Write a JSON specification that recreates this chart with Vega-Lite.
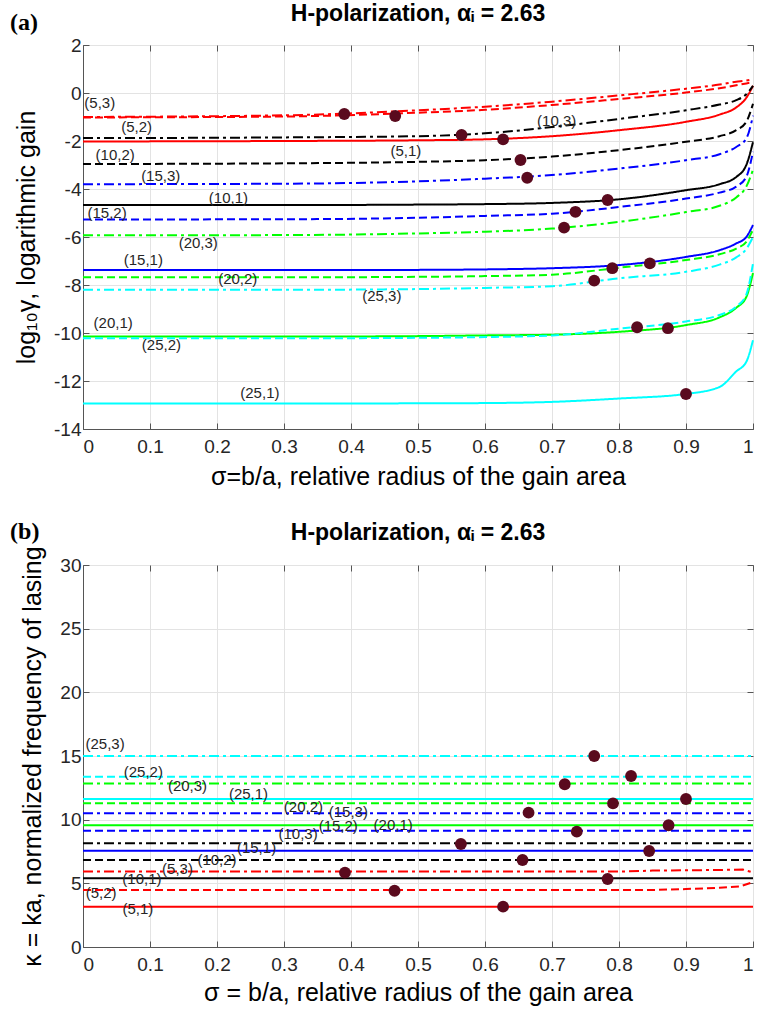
{
"$schema":"https://vega.github.io/schema/vega-lite/v6.json",
"background":"white",
"padding":{"left":9,"top":2,"right":0,"bottom":3},
"spacing":29,
"config":{
 "view":{"stroke":"#555","strokeWidth":1},
 "font":"Liberation Sans",
 "axis":{"labelFont":"Liberation Sans","labelFontSize":19,"labelColor":"#262626","titleFont":"Liberation Sans","titleFontSize":25,"titleFontWeight":"normal","titleColor":"#000","domainColor":"#555","tickColor":"#555","gridColor":"#e3e3e3","tickSize":-6,"labelPadding":8},
 "title":{"font":"Liberation Sans","fontSize":23,"fontWeight":"bold","color":"#000","anchor":"middle","offset":-15}
},
"datasets":{
"gain":[
{"k":"(5,3)","m":"5","n":"3","s":0,"v":-1.0},{"k":"(5,3)","m":"5","n":"3","s":0.3,"v":-0.93},{"k":"(5,3)","m":"5","n":"3","s":0.5,"v":-0.72},{"k":"(5,3)","m":"5","n":"3","s":0.6,"v":-0.57},{"k":"(5,3)","m":"5","n":"3","s":0.7,"v":-0.36},{"k":"(5,3)","m":"5","n":"3","s":0.8,"v":-0.1},{"k":"(5,3)","m":"5","n":"3","s":0.9,"v":0.18},{"k":"(5,3)","m":"5","n":"3","s":0.95,"v":0.35},{"k":"(5,3)","m":"5","n":"3","s":0.975,"v":0.47},{"k":"(5,3)","m":"5","n":"3","s":0.99,"v":0.52},{"k":"(5,3)","m":"5","n":"3","s":1,"v":0.58},
{"k":"(5,2)","m":"5","n":"2","s":0,"v":-1.02},{"k":"(5,2)","m":"5","n":"2","s":0.3,"v":-0.98},{"k":"(5,2)","m":"5","n":"2","s":0.5,"v":-0.82},{"k":"(5,2)","m":"5","n":"2","s":0.6,"v":-0.7},{"k":"(5,2)","m":"5","n":"2","s":0.7,"v":-0.5},{"k":"(5,2)","m":"5","n":"2","s":0.8,"v":-0.25},{"k":"(5,2)","m":"5","n":"2","s":0.9,"v":0.02},{"k":"(5,2)","m":"5","n":"2","s":0.95,"v":0.2},{"k":"(5,2)","m":"5","n":"2","s":0.975,"v":0.32},{"k":"(5,2)","m":"5","n":"2","s":0.99,"v":0.4},{"k":"(5,2)","m":"5","n":"2","s":1,"v":0.45},
{"k":"(5,1)","m":"5","n":"1","s":0,"v":-2.02},{"k":"(5,1)","m":"5","n":"1","s":0.3,"v":-2.0},{"k":"(5,1)","m":"5","n":"1","s":0.5,"v":-1.97},{"k":"(5,1)","m":"5","n":"1","s":0.6,"v":-1.93},{"k":"(5,1)","m":"5","n":"1","s":0.7,"v":-1.8},{"k":"(5,1)","m":"5","n":"1","s":0.8,"v":-1.55},{"k":"(5,1)","m":"5","n":"1","s":0.9,"v":-1.2},{"k":"(5,1)","m":"5","n":"1","s":0.95,"v":-0.9},{"k":"(5,1)","m":"5","n":"1","s":0.975,"v":-0.6},{"k":"(5,1)","m":"5","n":"1","s":0.99,"v":-0.2},{"k":"(5,1)","m":"5","n":"1","s":1,"v":0.3},
{"k":"(10,3)","m":"10","n":"3","s":0,"v":-1.88},{"k":"(10,3)","m":"10","n":"3","s":0.3,"v":-1.85},{"k":"(10,3)","m":"10","n":"3","s":0.5,"v":-1.8},{"k":"(10,3)","m":"10","n":"3","s":0.6,"v":-1.68},{"k":"(10,3)","m":"10","n":"3","s":0.7,"v":-1.42},{"k":"(10,3)","m":"10","n":"3","s":0.8,"v":-1.08},{"k":"(10,3)","m":"10","n":"3","s":0.9,"v":-0.72},{"k":"(10,3)","m":"10","n":"3","s":0.95,"v":-0.48},{"k":"(10,3)","m":"10","n":"3","s":0.975,"v":-0.3},{"k":"(10,3)","m":"10","n":"3","s":0.99,"v":-0.05},{"k":"(10,3)","m":"10","n":"3","s":1,"v":0.3},
{"k":"(10,2)","m":"10","n":"2","s":0,"v":-2.96},{"k":"(10,2)","m":"10","n":"2","s":0.3,"v":-2.93},{"k":"(10,2)","m":"10","n":"2","s":0.5,"v":-2.87},{"k":"(10,2)","m":"10","n":"2","s":0.6,"v":-2.8},{"k":"(10,2)","m":"10","n":"2","s":0.7,"v":-2.65},{"k":"(10,2)","m":"10","n":"2","s":0.8,"v":-2.38},{"k":"(10,2)","m":"10","n":"2","s":0.9,"v":-2.03},{"k":"(10,2)","m":"10","n":"2","s":0.95,"v":-1.8},{"k":"(10,2)","m":"10","n":"2","s":0.975,"v":-1.55},{"k":"(10,2)","m":"10","n":"2","s":0.99,"v":-1.2},{"k":"(10,2)","m":"10","n":"2","s":1,"v":-0.45},
{"k":"(10,1)","m":"10","n":"1","s":0,"v":-4.67},{"k":"(10,1)","m":"10","n":"1","s":0.3,"v":-4.67},{"k":"(10,1)","m":"10","n":"1","s":0.5,"v":-4.65},{"k":"(10,1)","m":"10","n":"1","s":0.6,"v":-4.63},{"k":"(10,1)","m":"10","n":"1","s":0.7,"v":-4.58},{"k":"(10,1)","m":"10","n":"1","s":0.8,"v":-4.43},{"k":"(10,1)","m":"10","n":"1","s":0.9,"v":-4.05},{"k":"(10,1)","m":"10","n":"1","s":0.95,"v":-3.8},{"k":"(10,1)","m":"10","n":"1","s":0.975,"v":-3.5},{"k":"(10,1)","m":"10","n":"1","s":0.99,"v":-3.0},{"k":"(10,1)","m":"10","n":"1","s":1,"v":-2.05},
{"k":"(15,3)","m":"15","n":"3","s":0,"v":-3.8},{"k":"(15,3)","m":"15","n":"3","s":0.3,"v":-3.78},{"k":"(15,3)","m":"15","n":"3","s":0.5,"v":-3.68},{"k":"(15,3)","m":"15","n":"3","s":0.6,"v":-3.57},{"k":"(15,3)","m":"15","n":"3","s":0.7,"v":-3.42},{"k":"(15,3)","m":"15","n":"3","s":0.8,"v":-3.15},{"k":"(15,3)","m":"15","n":"3","s":0.9,"v":-2.8},{"k":"(15,3)","m":"15","n":"3","s":0.95,"v":-2.55},{"k":"(15,3)","m":"15","n":"3","s":0.975,"v":-2.25},{"k":"(15,3)","m":"15","n":"3","s":0.99,"v":-1.9},{"k":"(15,3)","m":"15","n":"3","s":1,"v":-0.95},
{"k":"(15,2)","m":"15","n":"2","s":0,"v":-5.27},{"k":"(15,2)","m":"15","n":"2","s":0.3,"v":-5.26},{"k":"(15,2)","m":"15","n":"2","s":0.5,"v":-5.2},{"k":"(15,2)","m":"15","n":"2","s":0.6,"v":-5.12},{"k":"(15,2)","m":"15","n":"2","s":0.7,"v":-5.03},{"k":"(15,2)","m":"15","n":"2","s":0.8,"v":-4.75},{"k":"(15,2)","m":"15","n":"2","s":0.9,"v":-4.4},{"k":"(15,2)","m":"15","n":"2","s":0.95,"v":-4.15},{"k":"(15,2)","m":"15","n":"2","s":0.975,"v":-3.9},{"k":"(15,2)","m":"15","n":"2","s":0.99,"v":-3.5},{"k":"(15,2)","m":"15","n":"2","s":1,"v":-2.45},
{"k":"(15,1)","m":"15","n":"1","s":0,"v":-7.38},{"k":"(15,1)","m":"15","n":"1","s":0.3,"v":-7.38},{"k":"(15,1)","m":"15","n":"1","s":0.5,"v":-7.37},{"k":"(15,1)","m":"15","n":"1","s":0.6,"v":-7.35},{"k":"(15,1)","m":"15","n":"1","s":0.7,"v":-7.3},{"k":"(15,1)","m":"15","n":"1","s":0.8,"v":-7.17},{"k":"(15,1)","m":"15","n":"1","s":0.9,"v":-6.83},{"k":"(15,1)","m":"15","n":"1","s":0.95,"v":-6.55},{"k":"(15,1)","m":"15","n":"1","s":0.975,"v":-6.27},{"k":"(15,1)","m":"15","n":"1","s":0.99,"v":-6.0},{"k":"(15,1)","m":"15","n":"1","s":1,"v":-5.5},
{"k":"(20,3)","m":"20","n":"3","s":0,"v":-5.93},{"k":"(20,3)","m":"20","n":"3","s":0.3,"v":-5.92},{"k":"(20,3)","m":"20","n":"3","s":0.5,"v":-5.85},{"k":"(20,3)","m":"20","n":"3","s":0.6,"v":-5.78},{"k":"(20,3)","m":"20","n":"3","s":0.7,"v":-5.65},{"k":"(20,3)","m":"20","n":"3","s":0.8,"v":-5.37},{"k":"(20,3)","m":"20","n":"3","s":0.9,"v":-4.96},{"k":"(20,3)","m":"20","n":"3","s":0.95,"v":-4.7},{"k":"(20,3)","m":"20","n":"3","s":0.975,"v":-4.35},{"k":"(20,3)","m":"20","n":"3","s":0.99,"v":-3.9},{"k":"(20,3)","m":"20","n":"3","s":1,"v":-3.2},
{"k":"(20,2)","m":"20","n":"2","s":0,"v":-7.68},{"k":"(20,2)","m":"20","n":"2","s":0.3,"v":-7.68},{"k":"(20,2)","m":"20","n":"2","s":0.5,"v":-7.66},{"k":"(20,2)","m":"20","n":"2","s":0.6,"v":-7.63},{"k":"(20,2)","m":"20","n":"2","s":0.7,"v":-7.57},{"k":"(20,2)","m":"20","n":"2","s":0.8,"v":-7.28},{"k":"(20,2)","m":"20","n":"2","s":0.9,"v":-6.96},{"k":"(20,2)","m":"20","n":"2","s":0.95,"v":-6.72},{"k":"(20,2)","m":"20","n":"2","s":0.975,"v":-6.48},{"k":"(20,2)","m":"20","n":"2","s":0.99,"v":-6.2},{"k":"(20,2)","m":"20","n":"2","s":1,"v":-5.7},
{"k":"(20,1)","m":"20","n":"1","s":0,"v":-10.15},{"k":"(20,1)","m":"20","n":"1","s":0.3,"v":-10.15},{"k":"(20,1)","m":"20","n":"1","s":0.5,"v":-10.13},{"k":"(20,1)","m":"20","n":"1","s":0.6,"v":-10.1},{"k":"(20,1)","m":"20","n":"1","s":0.7,"v":-10.07},{"k":"(20,1)","m":"20","n":"1","s":0.8,"v":-9.95},{"k":"(20,1)","m":"20","n":"1","s":0.9,"v":-9.67},{"k":"(20,1)","m":"20","n":"1","s":0.95,"v":-9.35},{"k":"(20,1)","m":"20","n":"1","s":0.975,"v":-8.95},{"k":"(20,1)","m":"20","n":"1","s":0.99,"v":-8.5},{"k":"(20,1)","m":"20","n":"1","s":1,"v":-7.5},
{"k":"(25,3)","m":"25","n":"3","s":0,"v":-8.2},{"k":"(25,3)","m":"25","n":"3","s":0.3,"v":-8.2},{"k":"(25,3)","m":"25","n":"3","s":0.5,"v":-8.17},{"k":"(25,3)","m":"25","n":"3","s":0.6,"v":-8.12},{"k":"(25,3)","m":"25","n":"3","s":0.7,"v":-8.05},{"k":"(25,3)","m":"25","n":"3","s":0.8,"v":-7.72},{"k":"(25,3)","m":"25","n":"3","s":0.9,"v":-7.45},{"k":"(25,3)","m":"25","n":"3","s":0.95,"v":-7.15},{"k":"(25,3)","m":"25","n":"3","s":0.975,"v":-6.85},{"k":"(25,3)","m":"25","n":"3","s":0.99,"v":-6.5},{"k":"(25,3)","m":"25","n":"3","s":1,"v":-6.0},
{"k":"(25,2)","m":"25","n":"2","s":0,"v":-10.22},{"k":"(25,2)","m":"25","n":"2","s":0.3,"v":-10.22},{"k":"(25,2)","m":"25","n":"2","s":0.5,"v":-10.2},{"k":"(25,2)","m":"25","n":"2","s":0.6,"v":-10.17},{"k":"(25,2)","m":"25","n":"2","s":0.7,"v":-10.1},{"k":"(25,2)","m":"25","n":"2","s":0.8,"v":-9.82},{"k":"(25,2)","m":"25","n":"2","s":0.9,"v":-9.52},{"k":"(25,2)","m":"25","n":"2","s":0.95,"v":-9.25},{"k":"(25,2)","m":"25","n":"2","s":0.975,"v":-8.9},{"k":"(25,2)","m":"25","n":"2","s":0.99,"v":-8.4},{"k":"(25,2)","m":"25","n":"2","s":1,"v":-7.1},
{"k":"(25,1)","m":"25","n":"1","s":0,"v":-12.94},{"k":"(25,1)","m":"25","n":"1","s":0.3,"v":-12.94},{"k":"(25,1)","m":"25","n":"1","s":0.5,"v":-12.93},{"k":"(25,1)","m":"25","n":"1","s":0.6,"v":-12.92},{"k":"(25,1)","m":"25","n":"1","s":0.7,"v":-12.87},{"k":"(25,1)","m":"25","n":"1","s":0.8,"v":-12.73},{"k":"(25,1)","m":"25","n":"1","s":0.9,"v":-12.54},{"k":"(25,1)","m":"25","n":"1","s":0.95,"v":-12.25},{"k":"(25,1)","m":"25","n":"1","s":0.975,"v":-11.6},{"k":"(25,1)","m":"25","n":"1","s":0.99,"v":-11.2},{"k":"(25,1)","m":"25","n":"1","s":1,"v":-10.3}
],
"gainDots":[
{"s":0.39,"v":-0.875},{"s":0.466,"v":-0.96},{"s":0.565,"v":-1.75},{"s":0.627,"v":-1.93},{"s":0.653,"v":-2.79},{"s":0.663,"v":-3.53},{"s":0.783,"v":-4.46},{"s":0.735,"v":-4.95},{"s":0.718,"v":-5.61},{"s":0.846,"v":-7.1},{"s":0.79,"v":-7.3},{"s":0.763,"v":-7.82},{"s":0.873,"v":-9.8},{"s":0.827,"v":-9.76},{"s":0.9,"v":-12.54}
],
"gainLabels":[
{"t":"(5,3)","s":0.025,"v":-0.42},{"t":"(5,2)","s":0.08,"v":-1.42},{"t":"(10,2)","s":0.048,"v":-2.58},{"t":"(15,3)","s":0.116,"v":-3.46},{"t":"(10,1)","s":0.217,"v":-4.38},{"t":"(15,2)","s":0.036,"v":-5.0},{"t":"(20,3)","s":0.172,"v":-6.25},{"t":"(15,1)","s":0.09,"v":-6.96},{"t":"(20,2)","s":0.231,"v":-7.76},{"t":"(25,3)","s":0.446,"v":-8.46},{"t":"(20,1)","s":0.045,"v":-9.58},{"t":"(25,2)","s":0.117,"v":-10.5},{"t":"(25,1)","s":0.264,"v":-12.5},{"t":"(10,3)","s":0.707,"v":-1.15},{"t":"(5,1)","s":0.482,"v":-2.42}
],
"freq":[
{"k":"(25,3)","m":"25","n":"3","s":0,"v":15.0},{"k":"(25,3)","m":"25","n":"3","s":1,"v":15.0},
{"k":"(25,2)","m":"25","n":"2","s":0,"v":13.38},{"k":"(25,2)","m":"25","n":"2","s":1,"v":13.38},
{"k":"(20,3)","m":"20","n":"3","s":0,"v":12.85},{"k":"(20,3)","m":"20","n":"3","s":1,"v":12.85},
{"k":"(25,1)","m":"25","n":"1","s":0,"v":11.62},{"k":"(25,1)","m":"25","n":"1","s":1,"v":11.62},
{"k":"(20,2)","m":"20","n":"2","s":0,"v":11.28},{"k":"(20,2)","m":"20","n":"2","s":1,"v":11.28},
{"k":"(15,3)","m":"15","n":"3","s":0,"v":10.5},{"k":"(15,3)","m":"15","n":"3","s":1,"v":10.5},
{"k":"(20,1)","m":"20","n":"1","s":0,"v":9.56},{"k":"(20,1)","m":"20","n":"1","s":1,"v":9.56},
{"k":"(15,2)","m":"15","n":"2","s":0,"v":9.13},{"k":"(15,2)","m":"15","n":"2","s":1,"v":9.13},
{"k":"(10,3)","m":"10","n":"3","s":0,"v":8.14},{"k":"(10,3)","m":"10","n":"3","s":1,"v":8.14},
{"k":"(15,1)","m":"15","n":"1","s":0,"v":7.56},{"k":"(15,1)","m":"15","n":"1","s":1,"v":7.56},
{"k":"(10,2)","m":"10","n":"2","s":0,"v":6.83},{"k":"(10,2)","m":"10","n":"2","s":1,"v":6.83},
{"k":"(5,3)","m":"5","n":"3","s":0,"v":5.92},{"k":"(5,3)","m":"5","n":"3","s":0.8,"v":5.92},{"k":"(5,3)","m":"5","n":"3","s":0.85,"v":6.0},{"k":"(5,3)","m":"5","n":"3","s":0.95,"v":6.05},{"k":"(5,3)","m":"5","n":"3","s":0.985,"v":6.08},{"k":"(5,3)","m":"5","n":"3","s":1,"v":5.85},
{"k":"(10,1)","m":"10","n":"1","s":0,"v":5.39},{"k":"(10,1)","m":"10","n":"1","s":1,"v":5.39},
{"k":"(5,2)","m":"5","n":"2","s":0,"v":4.48},{"k":"(5,2)","m":"5","n":"2","s":0.85,"v":4.48},{"k":"(5,2)","m":"5","n":"2","s":0.9,"v":4.55},{"k":"(5,2)","m":"5","n":"2","s":0.95,"v":4.65},{"k":"(5,2)","m":"5","n":"2","s":0.98,"v":4.75},{"k":"(5,2)","m":"5","n":"2","s":1,"v":5.1},
{"k":"(5,1)","m":"5","n":"1","s":0,"v":3.17},{"k":"(5,1)","m":"5","n":"1","s":1,"v":3.17}
],
"freqDots":[
{"s":0.763,"v":15.0},{"s":0.818,"v":13.43},{"s":0.719,"v":12.78},{"s":0.9,"v":11.62},{"s":0.791,"v":11.28},{"s":0.665,"v":10.55},{"s":0.874,"v":9.56},{"s":0.737,"v":9.06},{"s":0.564,"v":8.09},{"s":0.845,"v":7.54},{"s":0.656,"v":6.83},{"s":0.391,"v":5.84},{"s":0.783,"v":5.34},{"s":0.465,"v":4.42},{"s":0.627,"v":3.17}
],
"freqLabels":[
{"t":"(25,3)","s":0.033,"v":15.94},{"t":"(25,2)","s":0.09,"v":13.77},{"t":"(20,3)","s":0.156,"v":12.67},{"t":"(25,1)","s":0.247,"v":12.02},{"t":"(20,2)","s":0.329,"v":11.0},{"t":"(15,3)","s":0.396,"v":10.6},{"t":"(20,1)","s":0.463,"v":9.58},{"t":"(15,2)","s":0.381,"v":9.5},{"t":"(10,3)","s":0.321,"v":8.87},{"t":"(15,1)","s":0.259,"v":7.8},{"t":"(10,2)","s":0.2,"v":6.83},{"t":"(5,3)","s":0.141,"v":6.13},{"t":"(10,1)","s":0.088,"v":5.32},{"t":"(5,2)","s":0.027,"v":4.27},{"t":"(5,1)","s":0.082,"v":2.98}
],
"letterA":[{"t":"(a)","s":-0.088,"v":2.92}],
"letterB":[{"t":"(b)","s":-0.087,"v":32.6}]
},
"vconcat":[
{
 "width":670,"height":384,
 "title":{"text":"H-polarization, αᵢ = 2.63","offset":-15},
 "resolve":{"axis":{"x":"independent","y":"independent"}},
 "layer":[
  {"data":{"name":"gain"},"mark":{"type":"line","strokeWidth":2,"interpolate":"monotone"},
   "encoding":{
    "x":{"field":"s","type":"quantitative","scale":{"domain":[0,1],"nice":false},"axis":{"values":[0,0.1,0.2,0.3,0.4,0.5,0.6,0.7,0.8,0.9,1],"format":"~g","grid":true,"labelPadding":14,"title":"σ=b/a, relative radius of the gain area","titlePadding":8}},
    "y":{"field":"v","type":"quantitative","scale":{"domain":[-14,2],"nice":false},"axis":{"values":[-14,-12,-10,-8,-6,-4,-2,0,2],"labelExpr":"toString(datum.value)","grid":true,"title":"log₁₀γ, logarithmic  gain","titlePadding":14}},
    "color":{"field":"m","type":"nominal","scale":{"domain":["5","10","15","20","25"],"range":["#ff0000","#000000","#0000ff","#00ff00","#00ffff"]},"legend":null},
    "strokeDash":{"field":"n","type":"nominal","scale":{"domain":["1","2","3"],"range":[[1,0],[8,4],[10,4,3,4]]},"legend":null},
    "detail":{"field":"k"}
   }},
  {"data":{"name":"gainDots"},"mark":{"type":"circle","size":140,"opacity":1,"color":"#5a0a1e"},
   "encoding":{
    "x":{"field":"s","type":"quantitative","axis":{"orient":"top","labels":false,"grid":false,"domain":false,"title":null,"values":[0,0.1,0.2,0.3,0.4,0.5,0.6,0.7,0.8,0.9,1]}},
    "y":{"field":"v","type":"quantitative","axis":{"orient":"right","labels":false,"grid":false,"domain":false,"title":null,"values":[-14,-12,-10,-8,-6,-4,-2,0,2]}}
   }},
  {"data":{"name":"gainLabels"},"mark":{"type":"text","fontSize":15,"color":"#262626","align":"center","baseline":"middle"},
   "encoding":{"x":{"field":"s","type":"quantitative","axis":null},"y":{"field":"v","type":"quantitative","axis":null},"text":{"field":"t"}}},
  {"data":{"name":"letterA"},"mark":{"type":"text","font":"Liberation Serif","fontSize":24,"fontWeight":"bold","color":"#000","align":"center","baseline":"middle"},
   "encoding":{"x":{"field":"s","type":"quantitative","axis":null},"y":{"field":"v","type":"quantitative","axis":null},"text":{"field":"t"}}}
 ]
},
{
 "width":670,"height":382,
 "title":{"text":"H-polarization, αᵢ = 2.63","offset":-25},
 "resolve":{"axis":{"x":"independent","y":"independent"}},
 "layer":[
  {"data":{"name":"freq"},"mark":{"type":"line","strokeWidth":2},
   "encoding":{
    "x":{"field":"s","type":"quantitative","scale":{"domain":[0,1],"nice":false},"axis":{"values":[0,0.1,0.2,0.3,0.4,0.5,0.6,0.7,0.8,0.9,1],"format":"~g","grid":true,"labelPadding":14,"title":"σ = b/a, relative radius of the gain area","titlePadding":6}},
    "y":{"field":"v","type":"quantitative","scale":{"domain":[0,30],"nice":false},"axis":{"values":[0,5,10,15,20,25,30],"grid":true,"title":"κ = ka, normalized frequency of lasing","titlePadding":14}},
    "color":{"field":"m","type":"nominal","scale":{"domain":["5","10","15","20","25"],"range":["#ff0000","#000000","#0000ff","#00ff00","#00ffff"]},"legend":null},
    "strokeDash":{"field":"n","type":"nominal","scale":{"domain":["1","2","3"],"range":[[1,0],[8,4],[10,4,3,4]]},"legend":null},
    "detail":{"field":"k"}
   }},
  {"data":{"name":"freqDots"},"mark":{"type":"circle","size":140,"opacity":1,"color":"#5a0a1e"},
   "encoding":{
    "x":{"field":"s","type":"quantitative","axis":{"orient":"top","labels":false,"grid":false,"domain":false,"title":null,"values":[0,0.1,0.2,0.3,0.4,0.5,0.6,0.7,0.8,0.9,1]}},
    "y":{"field":"v","type":"quantitative","axis":{"orient":"right","labels":false,"grid":false,"domain":false,"title":null,"values":[0,5,10,15,20,25,30]}}
   }},
  {"data":{"name":"freqLabels"},"mark":{"type":"text","fontSize":15,"color":"#262626","align":"center","baseline":"middle"},
   "encoding":{"x":{"field":"s","type":"quantitative","axis":null},"y":{"field":"v","type":"quantitative","axis":null},"text":{"field":"t"}}},
  {"data":{"name":"letterB"},"mark":{"type":"text","font":"Liberation Serif","fontSize":24,"fontWeight":"bold","color":"#000","align":"center","baseline":"middle"},
   "encoding":{"x":{"field":"s","type":"quantitative","axis":null},"y":{"field":"v","type":"quantitative","axis":null},"text":{"field":"t"}}}
 ]
}
]
}
